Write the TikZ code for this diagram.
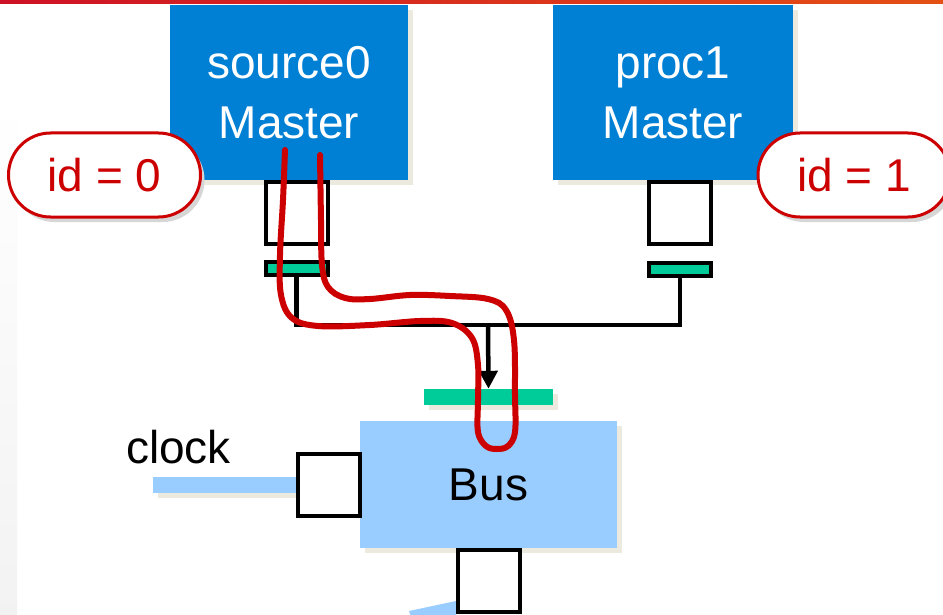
\documentclass[tikz,border=0pt]{standalone}
\usepackage{fontspec}
\setmainfont{Liberation Sans}
\usetikzlibrary{arrows.meta,shadows,backgrounds}
\definecolor{mblue}{RGB}{0,128,212}
\definecolor{busblue}{RGB}{153,204,255}
\definecolor{pgreen}{RGB}{0,204,153}
\definecolor{rred}{RGB}{204,0,0}
\definecolor{beige}{RGB}{236,233,223}
\definecolor{barleft}{RGB}{206,17,38}
\definecolor{barright}{RGB}{228,80,20}
\begin{document}
\begin{tikzpicture}[x=1pt,y=-1pt,
  bigfont/.style={font=\fontsize{46}{60}\selectfont},
  bshadow/.style={drop shadow={shadow xshift=5pt,shadow yshift=-5pt,fill=beige,opacity=1}},
  master/.style={bigfont,fill=mblue,text=white,minimum width=238pt,minimum height=175pt,inner sep=0pt,align=center,bshadow},
  callout/.style={bigfont,draw=rred,line width=3pt,fill=white,text=rred,rounded corners=42pt,minimum width=192pt,minimum height=84pt,inner sep=0pt,
    drop shadow={shadow xshift=4pt,shadow yshift=-5pt,fill=black!16,opacity=1}},
  port/.style={draw=black,line width=4pt,fill=white,minimum width=62pt,minimum height=62pt,inner sep=0pt},
  gbar/.style={draw=black,line width=4pt,fill=pgreen,minimum width=62pt,minimum height=13pt,inner sep=0pt},
  wire/.style={draw=black,line width=4.5pt},
  busbox/.style={bigfont,fill=busblue,minimum width=257pt,minimum height=127pt,inner sep=0pt,bshadow},
  redline/.style={draw=rred,line width=6pt,line cap=round,line join=round}
]
\useasboundingbox (0,0) rectangle (943,615);
\begin{pgfonlayer}{background}
\fill[white] (0,0) rectangle (943,615);
\shade[top color=white,bottom color=black!5] (0,100) rectangle (17,615);
\end{pgfonlayer}
\shade[left color=barleft,right color=barright] (0,0) rectangle (943,4);

% masters
\node[master] (src) at (289,92.5) {source0\\Master};
\node[master,minimum width=240pt] (proc) at (673,92.5) {proc1\\Master};

% callouts
\node[callout] (id0) at (104.5,175) {id = 0};
\node[callout] (id1) at (854,175) {id = 1};

% ports and bars
\node[port] (lp) at (296.5,213) {};
\node[port] (rp) at (680,213) {};
\node[gbar] (lbar) at (296.5,268) {};
\node[gbar] (rbar) at (680,269) {};

% bus
\node[busbox] (bus) at (488.5,484.5) {Bus};
\node[fill=pgreen,minimum width=129pt,minimum height=16pt,inner sep=0pt,bshadow] (bb) at (488.5,397) {};

% clock
\node[anchor=base,bigfont] (clkl) at (178.5,463) {clock};
\node[port] (clk) at (329,485) {};
\coordinate (clkin) at (153,485);
\begin{pgfonlayer}{background}
\draw[beige,line width=16pt] ([xshift=5pt,yshift=-5pt]clkin) -- ([xshift=5pt,yshift=-5pt]clk.west);
\draw[busblue,line width=16pt] (clkin) -- (clk.west);
\end{pgfonlayer}

% bottom port
\fill[busblue] (409,611) -- (456,601) -- (456,620) -- (412,620) -- cycle;
\node[port] (bp) at (489,581) {};

% wires
\coordinate (j) at (488,325);
\draw[wire] (lbar.south) |- (j) -| (rbar.south);
\draw[wire,-{Triangle[length=18pt,width=18pt]}] (j) -- (bb.north);

% red path
\draw[redline] plot[smooth,tension=0.6] coordinates {
 (285,150) (283,200) (280,255) (281,295) (292,318) (318,326) (370,325)
 (420,321) (452,323) (472,338) (478,365) (478,400) (478,432) (486,446)
 (497,449) (508,446) (515,432) (515,395) (514,340) (506,310) (488,299)
 (450,296) (410,295) (370,299) (345,298) (328,287) (322,265) (321,220) (320,155)};
\end{tikzpicture}
\end{document}
